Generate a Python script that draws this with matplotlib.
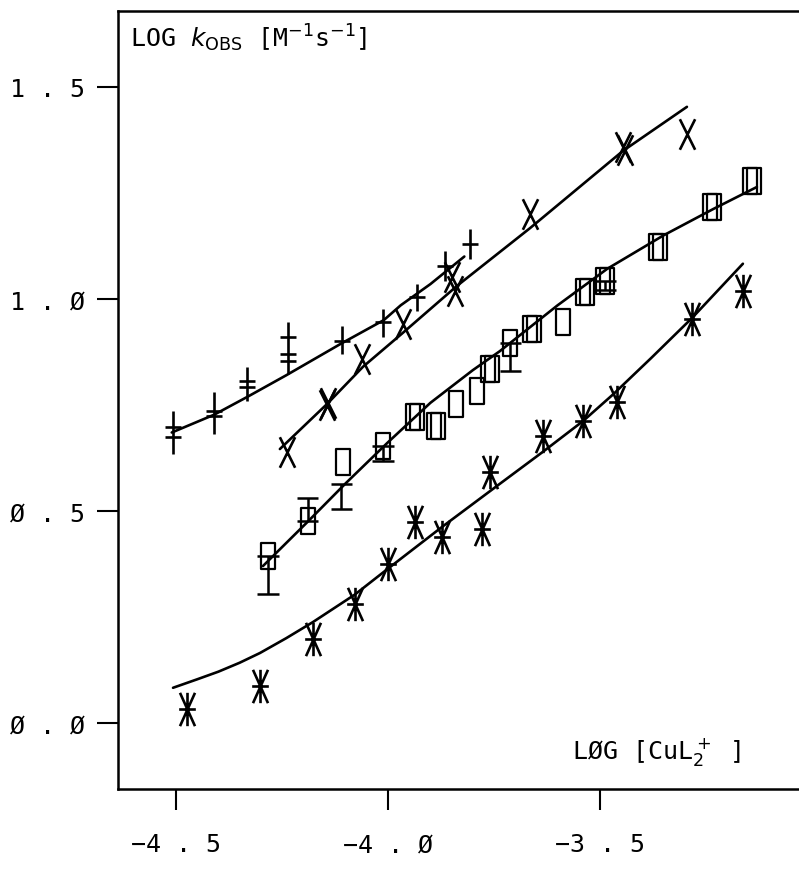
"""Log k_obs vs log [CuL2+] -- four series with fitted curves (plotter style)."""
import numpy as np
import matplotlib
matplotlib.use("Agg")
import matplotlib.pyplot as plt
from matplotlib.path import Path

plt.rcParams["font.family"] = ["DejaVu Sans Mono", "DejaVu Sans"]
plt.rcParams["mathtext.fontset"] = "dejavusans"

# ---- data ----
# "+" series (duplicates at the same x drawn as extra crossbars)
plus_x = [-4.507, -4.507, -4.41, -4.41, -4.333, -4.333, -4.236, -4.236, -4.236,
          -4.108, -4.012, -3.932, -3.866, -3.807]
plus_y = [0.675, 0.698, 0.724, 0.736, 0.792, 0.807, 0.854, 0.870, 0.910,
          0.901, 0.946, 1.005, 1.078, 1.130]
plus_lo = [0.634, 0.698, 0.682, 0.736, 0.759, 0.807, 0.823, 0.870, 0.910,
           0.870, 0.910, 0.972, 1.042, 1.094]
plus_hi = [0.736, 0.698, 0.781, 0.736, 0.840, 0.807, 0.946, 0.870, 0.910,
           0.936, 0.976, 1.035, 1.113, 1.165]
fit_plus_x = [-4.51, -4.41, -4.33, -4.24, -4.11, -4.01, -3.97, -3.90, -3.82]
fit_plus_y = [0.685, 0.727, 0.770, 0.820, 0.895, 0.950, 0.985, 1.035, 1.100]

# "X" series
cross_x = [-4.238, -4.142, -4.145, -4.061, -3.965, -3.850, -3.842, -3.665, -3.446, -3.440, -3.295]
cross_y = [0.639, 0.755, 0.750, 0.858, 0.941, 1.052, 1.019, 1.200, 1.358, 1.352, 1.389]
fit_cross_x = [-4.255, -4.144, -4.059, -3.965, -3.837, -3.665, -3.446, -3.295]
fit_cross_y = [0.646, 0.752, 0.840, 0.920, 1.031, 1.167, 1.349, 1.453]

# rectangle series (pairs a few px apart look like "[||]")
rect_x = [-4.283, -4.189, -4.106, -4.012,
          -3.940, -3.932, -3.891, -3.883, -3.840, -3.790, -3.763, -3.755,
          -3.712, -3.664, -3.656, -3.587, -3.539, -3.531, -3.492, -3.484,
          -3.367, -3.359, -3.240, -3.232, -3.146, -3.138]
rect_y = [0.394, 0.476, 0.616, 0.653,
          0.722, 0.722, 0.700, 0.700, 0.752, 0.783, 0.835, 0.835,
          0.895, 0.929, 0.929, 0.946, 1.017, 1.017, 1.042, 1.042,
          1.123, 1.123, 1.217, 1.217, 1.278, 1.278]
# error bars on rectangle series (x, low, high)
rect_err_x = [-4.283, -4.189, -4.110, -4.012, -3.712, -3.488]
rect_err_lo = [0.305, 0.476, 0.505, 0.618, 0.830, 1.020]
rect_err_hi = [0.394, 0.531, 0.564, 0.653, 0.895, 1.042]
fit_rect_x = [-4.295, -4.19, -4.10, -4.00, -3.90, -3.80, -3.736, -3.60, -3.483,
              -3.35, -3.233, -3.13]
fit_rect_y = [0.370, 0.474, 0.565, 0.662, 0.755, 0.832, 0.877, 0.985, 1.071,
              1.150, 1.212, 1.264]

# asterisk series
ast_x = [-4.474, -4.302, -4.177, -4.078, -4.000, -3.936, -3.873, -3.778,
         -3.759, -3.634, -3.540, -3.460, -3.283, -3.163]
ast_y = [0.033, 0.087, 0.198, 0.281, 0.375, 0.474, 0.439, 0.458,
         0.592, 0.677, 0.712, 0.757, 0.953, 1.019]
fit_ast_x = [-4.507, -4.45, -4.40, -4.35, -4.302, -4.24, -4.177, -4.078, -4.000,
             -3.873, -3.743, -3.634, -3.540, -3.469, -3.380, -3.283, -3.163]
fit_ast_y = [0.083, 0.103, 0.121, 0.142, 0.165, 0.200, 0.238, 0.303, 0.364,
             0.462, 0.559, 0.640, 0.712, 0.775, 0.860, 0.955, 1.083]

xticks = [-4.5, -4.0, -3.5]
xticklabels = ["\u22124 . 5", "\u22124 . \u00d8", "\u22123 . 5"]
yticks = [0.0, 0.5, 1.0, 1.5]
yticklabels = ["\u00d8 . \u00d8", "\u00d8 . 5", "1 . \u00d8", "1 . 5"]

# ---- marker shapes ----
M, L, C = Path.MOVETO, Path.LINETO, Path.CLOSEPOLY
tall_x = Path([(-0.5, 1), (0.5, -1), (0.5, 1), (-0.5, -1)], [M, L, M, L])
tall_rect = Path([(-0.27, -0.5), (0.27, -0.5), (0.27, 0.5), (-0.27, 0.5), (-0.27, -0.5)],
                 [M, L, L, L, C])
aster = Path([(0, 1), (0, -1), (-0.45, 1), (0.45, -1), (0.45, 1), (-0.45, -1),
              (-0.5, 0), (0.5, 0)], [M, L, M, L, M, L, M, L])

fig = plt.figure(figsize=(7.99, 8.78), dpi=100)
ax = fig.add_axes([118 / 799, 88 / 878, 681 / 799, 778 / 878])
lw = 1.9
k = "black"

# fitted curves
for fx, fy in ((fit_plus_x, fit_plus_y), (fit_cross_x, fit_cross_y),
               (fit_rect_x, fit_rect_y), (fit_ast_x, fit_ast_y)):
    ax.plot(fx, fy, "-", color=k, lw=lw, solid_capstyle="round",
            solid_joinstyle="round")

# "+" points with vertical bars
px = np.array(plus_x); py = np.array(plus_y)
yerr = [py - np.array(plus_lo), np.array(plus_hi) - py]
ax.errorbar(px, py, yerr=yerr, fmt="none", ecolor=k, elinewidth=1.9, capsize=0)
ax.plot(px, py, ls="none", marker="_", ms=11, mew=1.9, color=k)

# "X" points
ax.plot(cross_x, cross_y, ls="none", marker=tall_x, ms=22, mew=1.9, color=k)

# rectangles with error bars
ex = np.array(rect_err_x); elo = np.array(rect_err_lo); ehi = np.array(rect_err_hi)
ax.vlines(ex, elo, ehi, color=k, lw=1.8)
ax.hlines(np.concatenate([elo, ehi]), np.concatenate([ex, ex]) - 0.025,
          np.concatenate([ex, ex]) + 0.025, color=k, lw=1.8)
ax.plot(rect_x, rect_y, ls="none", marker=tall_rect, ms=19, mew=1.6,
        mec=k, mfc="none")

# asterisks
ax.plot(ast_x, ast_y, ls="none", marker=aster, ms=24, mew=1.9, color=k)

ax.set_xlim(-4.6368, -3.0307)
ax.set_ylim(-0.1557, 1.679)
ax.set_xticks(xticks)
ax.set_xticklabels(xticklabels, fontsize=18)
ax.set_yticks(yticks)
ax.set_yticklabels(yticklabels, fontsize=18)
ax.tick_params(direction="out", length=15, width=1.5, color=k)
ax.tick_params(axis="x", pad=16)
ax.tick_params(axis="y", pad=9)
ax.spines["right"].set_visible(False)
for s in ("left", "bottom", "top"):
    ax.spines[s].set_linewidth(1.8)

ax.text(0.018, 0.955, r"LOG $k_{\mathrm{OBS}}$ [M$^{-1}$s$^{-1}$]",
        transform=ax.transAxes, fontsize=18, va="baseline", ha="left")
ax.text(0.667, 0.04, "L\u00d8G [CuL$_2^+$ ]",
        transform=ax.transAxes, fontsize=18, va="baseline", ha="left")

fig.savefig("out.png", dpi=100)
